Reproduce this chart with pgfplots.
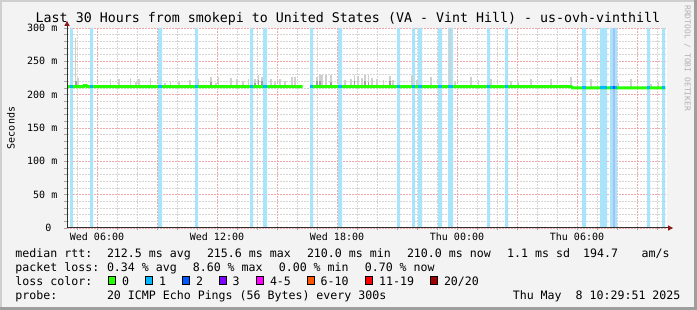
\documentclass[border=0pt]{standalone}
\usepackage{pgfplots}
\usepackage{pgfplotstable}
\pgfplotsset{compat=1.18}
\usepackage{fontspec}
\setmonofont{DejaVu Sans Mono}
\usetikzlibrary{arrows.meta}
\definecolor{bgc}{HTML}{F3F3F3}
\definecolor{shadeA}{HTML}{CFCFCF}
\definecolor{shadeB}{HTML}{9E9E9E}
\definecolor{mgrid}{HTML}{F2A8A8}
\definecolor{mingrid}{HTML}{D4D4D4}
\definecolor{lossA}{HTML}{A9E4FA}
\definecolor{lossB}{HTML}{A6C0FA}
\definecolor{lc0}{HTML}{26FF00}
\definecolor{lc1}{HTML}{00B8FF}
\definecolor{lc2}{HTML}{0059FF}
\definecolor{lc3}{HTML}{7E00FF}
\definecolor{lc4}{HTML}{FF00FF}
\definecolor{lc6}{HTML}{FF5500}
\definecolor{lc11}{HTML}{FF0000}
\definecolor{lc20}{HTML}{A10000}
\definecolor{smokeA}{HTML}{CFCFCF}
\definecolor{smokeB}{HTML}{A0A0A0}
\definecolor{arrowc}{HTML}{8B1A1A}
\definecolor{axc}{HTML}{303030}
\newcommand\tickfont{\ttfamily\fontsize{10bp}{12bp}\selectfont}
\newcommand\legfont{\ttfamily\fontsize{11.6bp}{14bp}\selectfont}
\newcommand\titfont{\ttfamily\fontsize{13.3bp}{15bp}\selectfont}
\newcommand\rrdfont{\ttfamily\fontsize{8bp}{10bp}\selectfont}

\pgfplotstableread{
h top
4.92 285
5.05 225
6.67 223.5
7.08 223.5
7.67 224.5
7.95 219.5
8.08 224
8.67 224.5
9.38 218
9.67 220
10.08 221
10.65 222
11.07 223.5
11.68 227
11.95 218
12.07 227
12.70 225.5
13.00 224
13.28 220.5
13.57 224
13.90 223
14.07 229.5
14.23 227
14.68 224
14.90 220
15.15 224
15.40 221
15.73 227
15.90 227
16.98 226
17.15 231
17.23 230
17.45 229
17.70 230
18.40 222.5
18.70 224
18.87 229
19.03 228
19.23 225
19.40 229
19.57 229
19.73 225
19.98 224
20.32 222
20.65 228
20.78 222
21.73 229
21.98 222
22.68 227
23.65 300
23.90 220
24.68 226
25.07 222
25.68 224
26.70 221
27.05 219
27.70 224
28.70 224
29.70 227
}\smokeone
\pgfplotstableread{
h top
30.70 223
32.06 218
32.68 223
33.68 216
34.07 219
}\smoketwo
\pgfplotstableread{
h top
4.95 220
11.68 219
13.90 218
14.07 222
14.23 220
16.98 221
17.15 220
17.70 219
18.87 221
19.40 220
19.57 219
20.65 220
}\smokedark

\begin{document}
\begin{tikzpicture}
\useasboundingbox (0,0) rectangle (697bp,310bp);
\fill[bgc] (0,0) rectangle (697bp,310bp);
\fill[shadeA] (0,308bp) rectangle (697bp,310bp);
\fill[shadeA] (0,0) rectangle (2bp,310bp);
\fill[shadeB] (0,0) rectangle (697bp,2.5bp);
\fill[shadeB] (694bp,0) rectangle (697bp,310bp);

\begin{axis}[
  at={(67bp,82bp)}, anchor=south west,
  scale only axis, width=600bp, height=200bp,
  xmin=4.5, xmax=34.5, ymin=0, ymax=300,
  axis x line=bottom, axis y line=left,
  axis line style={draw=none},
  axis background/.style={fill=white},
  xtick={6,9,...,33},
  xticklabels={Wed 06:00,{},Wed 12:00,{},Wed 18:00,{},Thu 00:00,{},Thu 06:00,{}},
  minor xtick={5,6,...,34},
  ytick={0,50,...,300},
  yticklabels={0~~,50 m,100 m,150 m,200 m,250 m,300 m},
  minor ytick={10,20,...,290},
  grid=both,
  major grid style={mgrid, dash pattern=on 1.5bp off 1.5bp, line width=0.8bp},
  minor grid style={mingrid, dash pattern=on 1.5bp off 1.5bp, line width=0.8bp},
  tick align=outside, major tick length=2.5bp, minor tick length=2.5bp,
  every tick/.style={gray!70, line width=0.8bp},
  xticklabel style={font=\tickfont, anchor=base, inner sep=0pt, text=black, yshift=-10bp},
  yticklabel style={font=\tickfont, anchor=east, inner sep=0pt, text=black, xshift=-7bp},
  xticklabel shift=0pt, yticklabel shift=0pt,
  clip=true,
]
% loss bars
\addplot[const plot, fill=lossA, draw=none] coordinates {
(4.5,0)(4.65,300)(4.79,0)(5.65,300)(5.80,0)(9.05,300)(9.25,0)(10.90,300)(11.05,0)
(13.65,300)(13.80,0)(14.30,300)(14.50,0)(16.65,300)(16.80,0)(18.05,300)(18.25,0)
(21.00,300)(21.15,0)(21.75,300)(21.90,0)(22.05,300)(22.25,0)(23.05,300)(23.25,0)
(23.55,300)(23.80,0)(25.50,300)(25.65,0)(26.40,300)(26.55,0)(30.25,300)(30.45,0)
(31.15,300)(31.50,0)(31.65,300)(32.00,0)(33.50,300)(33.65,0)(34.25,300)(34.40,0)(34.5,0)
} \closedcycle;
\addplot[fill=lossB, draw=none] coordinates {(31.80,0)(31.80,300)(31.90,300)(31.90,0)} --cycle;
% smoke
\addplot[draw=none, forget plot, smokeA, line width=1.8bp,
  error bars/.cd, y dir=plus, y explicit, error mark=none,
  error bar style={smokeA, line width=1.8bp, solid}]
  table[x=h, y expr=212, y error expr=\thisrow{top}-212] {\smokeone};
\addplot[draw=none, forget plot, smokeA, line width=1.8bp,
  error bars/.cd, y dir=plus, y explicit, error mark=none,
  error bar style={smokeA, line width=1.8bp, solid}]
  table[x=h, y expr=210, y error expr=\thisrow{top}-210] {\smoketwo};
\addplot[draw=none, forget plot, smokeB, line width=1.8bp,
  error bars/.cd, y dir=plus, y explicit, error mark=none,
  error bar style={smokeB, line width=1.8bp, solid}]
  table[x=h, y expr=212, y error expr=\thisrow{top}-212] {\smokedark};
% median line
\addplot[lc0, line width=3bp, unbounded coords=jump, line cap=butt] coordinates {
(4.5,212)(5.33,212)(5.36,213.5)(5.47,213.5)(5.5,212)(16.28,212)(16.28,nan)
(16.65,212)(29.72,212)(29.78,210)(34.42,210)
};
\addplot[lc1, line width=3bp, unbounded coords=jump, line cap=butt] coordinates {
(4.65,212)(4.79,212)(4.79,nan)(5.65,212)(5.80,212)(5.80,nan)
(9.05,212)(9.25,212)(9.25,nan)(10.90,212)(11.05,212)(11.05,nan)
(13.65,212)(13.80,212)(13.80,nan)(14.30,212)(14.50,212)(14.50,nan)
(16.65,212)(16.80,212)(16.80,nan)(18.05,212)(18.25,212)(18.25,nan)
(21.00,212)(21.15,212)(21.15,nan)(21.75,212)(21.90,212)(21.90,nan)
(22.05,212)(22.25,212)(22.25,nan)(23.05,212)(23.25,212)(23.25,nan)
(23.55,212)(23.80,212)(23.80,nan)(25.50,212)(25.65,212)(25.65,nan)
(26.40,212)(26.55,212)(26.55,nan)(30.25,210)(30.45,210)(30.45,nan)
(31.15,210)(31.50,210)(31.50,nan)(31.65,210)(32.00,210)(32.00,nan)
(33.50,210)(33.65,210)(33.65,nan)(34.25,210)(34.40,210)
};
\addplot[lc2, line width=3bp, line cap=butt] coordinates {(31.80,210)(31.90,210)};
\end{axis}

% axis lines with arrows
\draw[axc, line width=1bp] (67bp,82bp) -- (67bp,285bp);
\fill[arrowc] (64.3bp,284bp) -- (69.7bp,284bp) -- (67bp,289bp) -- cycle;
\draw[axc, line width=1bp] (66.5bp,82bp) -- (669bp,82bp);
\fill[arrowc] (668bp,84.7bp) -- (668bp,79.3bp) -- (673bp,82bp) -- cycle;

% y label
\node[rotate=90, font=\tickfont, inner sep=0pt] at (11bp,182bp) {Seconds};
% title
\node[anchor=base, inner sep=0pt, font=\titfont] at (348bp,287.8bp)
  {Last 30 Hours from smokepi to United States (VA - Vint Hill) - us-ovh-vinthill};
% rrdtool
\node[rotate=-90, anchor=west, inner sep=0pt, font=\rrdfont, text=black!30] at (687.5bp,305bp)
  {RRDTOOL / TOBI OETIKER};

% legend
\begin{scope}[every node/.style={anchor=base west, inner sep=0pt, font=\legfont}]
\node at (15.3bp,52.3bp) {median rtt:};
\node at (106.8bp,52.3bp) {212.5 ms avg};
\node at (206.8bp,52.3bp) {215.6 ms max};
\node at (306.8bp,52.3bp) {210.0 ms min};
\node at (406.8bp,52.3bp) {210.0 ms now};
\node at (507bp,52.3bp) {1.1 ms sd};
\node at (583bp,52.3bp) {194.7};
\node at (641.5bp,52.3bp) {am/s};

\node at (15.3bp,38.3bp) {packet loss:};
\node at (106.8bp,38.3bp) {0.34 \% avg};
\node at (192.6bp,38.3bp) {8.60 \% max};
\node at (278.6bp,38.3bp) {0.00 \% min};
\node at (364.6bp,38.3bp) {0.70 \% now};

\node at (15.3bp,25bp) {loss color:};
\node at (121.8bp,25bp) {0};
\node at (159bp,25bp) {1};
\node at (195.8bp,25bp) {2};
\node at (232.5bp,25bp) {3};
\node at (269.8bp,25bp) {4-5};
\node at (320.5bp,25bp) {6-10};
\node at (379bp,25bp) {11-19};
\node at (443.8bp,25bp) {20/20};

\node at (15.3bp,11bp) {probe:};
\node at (106.8bp,11bp) {20 ICMP Echo Pings (56 Bytes) every 300s};
\node at (512.6bp,11bp) {Thu May~~8 10:29:51 2025};
\end{scope}
\begin{scope}[line width=0.9bp]
\filldraw[fill=lc0, draw=black] (108.3bp,25.7bp) rectangle ++(7.3bp,7.5bp);
\filldraw[fill=lc1, draw=black] (145.5bp,25.7bp) rectangle ++(7.3bp,7.5bp);
\filldraw[fill=lc2, draw=black] (182.3bp,25.7bp) rectangle ++(7.3bp,7.5bp);
\filldraw[fill=lc3, draw=black] (219bp,25.7bp) rectangle ++(7.3bp,7.5bp);
\filldraw[fill=lc4, draw=black] (256.3bp,25.7bp) rectangle ++(7.3bp,7.5bp);
\filldraw[fill=lc6, draw=black] (307bp,25.7bp) rectangle ++(7.3bp,7.5bp);
\filldraw[fill=lc11, draw=black] (365.5bp,25.7bp) rectangle ++(7.3bp,7.5bp);
\filldraw[fill=lc20, draw=black] (430.3bp,25.7bp) rectangle ++(7.3bp,7.5bp);
\end{scope}
\end{tikzpicture}
\end{document}
